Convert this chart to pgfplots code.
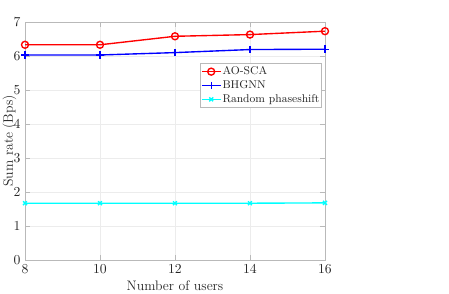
\documentclass[border=0pt]{standalone}
\usepackage{pgfplots}
\pgfplotsset{compat=1.18}
\definecolor{mred}{rgb}{1,0,0}
\definecolor{mblue}{rgb}{0,0,1}
\definecolor{mcyan}{rgb}{0,1,1}
\begin{document}
\begin{tikzpicture}
\path[use as bounding box] (0,0) rectangle (359.2pt,235.2pt);
\begin{axis}[
  at={(20pt,27.2pt)}, anchor=south west,
  scale only axis, width=240pt, height=190.4pt,
  xmin=8, xmax=16, ymin=0, ymax=7,
  xtick={8,10,12,14,16}, ytick={0,1,2,3,4,5,6,7},
  grid=major, major grid style={gray!15, line width=0.4pt},
  axis line style={gray!55},
  tick style={gray!55},
  tick align=inside,
  ticklabel style={text=black!85, font=\fontsize{11}{13}\selectfont},
  xlabel={Number of users}, ylabel={Sum rate (Bps)},
  label style={text=black!85, font=\fontsize{11}{13}\selectfont},
  xlabel style={yshift=1pt},
  ylabel style={yshift=-9pt},
  legend cell align=left,
  legend image code/.code={\draw[#1] (0pt,0pt) -- (15pt,0pt); \draw[#1, only marks] plot coordinates {(7.5pt,0pt)};},
  legend style={at={(0.99,0.828)}, anchor=north east, draw=gray!55, font=\fontsize{9}{10}\selectfont, inner sep=0.8pt, row sep=-0.8pt, text=black!85, nodes={inner xsep=1pt}},
  every axis plot/.append style={line width=1.1pt},
]
\addplot[color=mred, mark=o, mark size=2.8pt, mark options={line width=1.1pt, color=mred}] coordinates {(8,6.33) (10,6.33) (12,6.58) (14,6.63) (16,6.73)};
\addlegendentry{AO-SCA}
\addplot[color=mblue, mark=+, mark size=3pt, mark options={color=mblue}] coordinates {(8,6.03) (10,6.03) (12,6.10) (14,6.19) (16,6.20)};
\addlegendentry{BHGNN}
\addplot[color=mcyan, mark=x, mark size=2.2pt, mark options={color=mcyan}] coordinates {(8,1.67) (10,1.67) (12,1.67) (14,1.67) (16,1.68)};
\addlegendentry{Random phaseshift}
\end{axis}
\end{tikzpicture}
\end{document}
